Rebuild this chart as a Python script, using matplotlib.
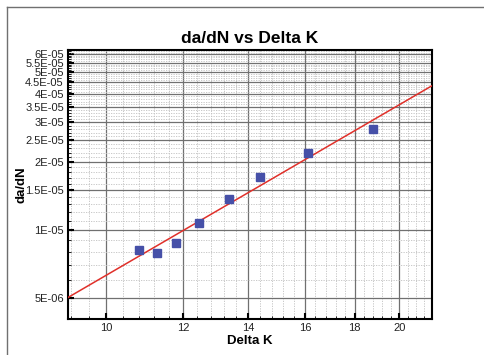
import numpy as np
import matplotlib
matplotlib.use('Agg')
import matplotlib.pyplot as plt
from matplotlib.ticker import FixedLocator, NullFormatter
from matplotlib.lines import Line2D

plt.rcParams['font.family'] = ['Liberation Sans', 'DejaVu Sans']

# Datos
delta_k = [10.81, 11.27, 11.80, 12.47, 13.38, 14.38, 16.12, 18.77]
dadn = [8.2e-6, 7.9e-6, 8.8e-6, 1.07e-5, 1.37e-5, 1.72e-5, 2.19e-5, 2.81e-5]

# Recta de ajuste (extremos)
fit_k = [9.14, 21.6]
fit_dadn = [5.03e-6, 4.35e-5]

x_ticks = [10, 12, 14, 16, 18, 20]
y_ticks = [5e-6, 1e-5, 1.5e-5, 2e-5, 2.5e-5, 3e-5, 3.5e-5, 4e-5, 4.5e-5, 5e-5, 5.5e-5, 6e-5]
y_labels = ['5E-06', '1E-05', '1.5E-05', '2E-05', '2.5E-05', '3E-05', '3.5E-05',
            '4E-05', '4.5E-05', '5E-05', '5.5E-05', '6E-05']

fig = plt.figure(figsize=(4.85, 3.55), dpi=100)
ax = fig.add_axes([68/485, 1-319/355, (432-68)/485, (319-50)/355])

ax.set_xscale('log')
ax.set_yscale('log')
ax.set_xlim(9.14, 21.6)
ax.set_ylim(4.04e-6, 6.26e-5)

# Ticks y grilla
ax.xaxis.set_major_locator(FixedLocator(x_ticks))
ax.xaxis.set_major_formatter(plt.FixedFormatter([str(t) for t in x_ticks]))
ax.xaxis.set_minor_locator(FixedLocator(np.arange(9.2, 21.6, 0.4)))
ax.xaxis.set_minor_formatter(NullFormatter())
ax.yaxis.set_major_locator(FixedLocator(y_ticks))
ax.yaxis.set_major_formatter(plt.FixedFormatter(y_labels))
ax.yaxis.set_minor_locator(FixedLocator(np.arange(4e-6, 6.3e-5, 1e-6)))
ax.yaxis.set_minor_formatter(NullFormatter())

ax.grid(which='minor', color='#c0c0c0', linestyle=(0, (1.5, 1.5)), linewidth=0.6, zorder=0)
ax.grid(which='major', color='#707070', linestyle='-', linewidth=0.9, zorder=0)
ax.set_axisbelow(True)

ax.tick_params(which='major', direction='in', length=4, width=1.5, labelsize=8,
               colors='black', labelcolor='#222222', pad=3)
ax.tick_params(which='minor', direction='in', length=2, width=0.6)
for s in ax.spines.values():
    s.set_linewidth(1.5)
    s.set_color('black')

# Grafico
ax.plot(fit_k, fit_dadn, color='#e0302a', linewidth=1.1, zorder=3)
ax.plot(delta_k, dadn, linestyle='none', marker='s', markersize=6,
        color='#4650a8', markeredgecolor='#4650a8', zorder=4)

ax.set_title('da/dN vs Delta K', fontsize=12.5, fontweight='bold', pad=5)
ax.set_xlabel('Delta K', fontsize=9.5, fontweight='bold', labelpad=1)
ax.set_ylabel('da/dN', fontsize=9.5, fontweight='bold')
ax.yaxis.set_label_coords(-0.112, 0.5)

# Marco exterior
fig.add_artist(Line2D([7/485, 1], [1-7/355, 1-7/355], color='#707070', linewidth=1))
fig.add_artist(Line2D([7/485, 7/485], [0, 1-7/355], color='#707070', linewidth=1))

fig.savefig('out.png', dpi=100)
